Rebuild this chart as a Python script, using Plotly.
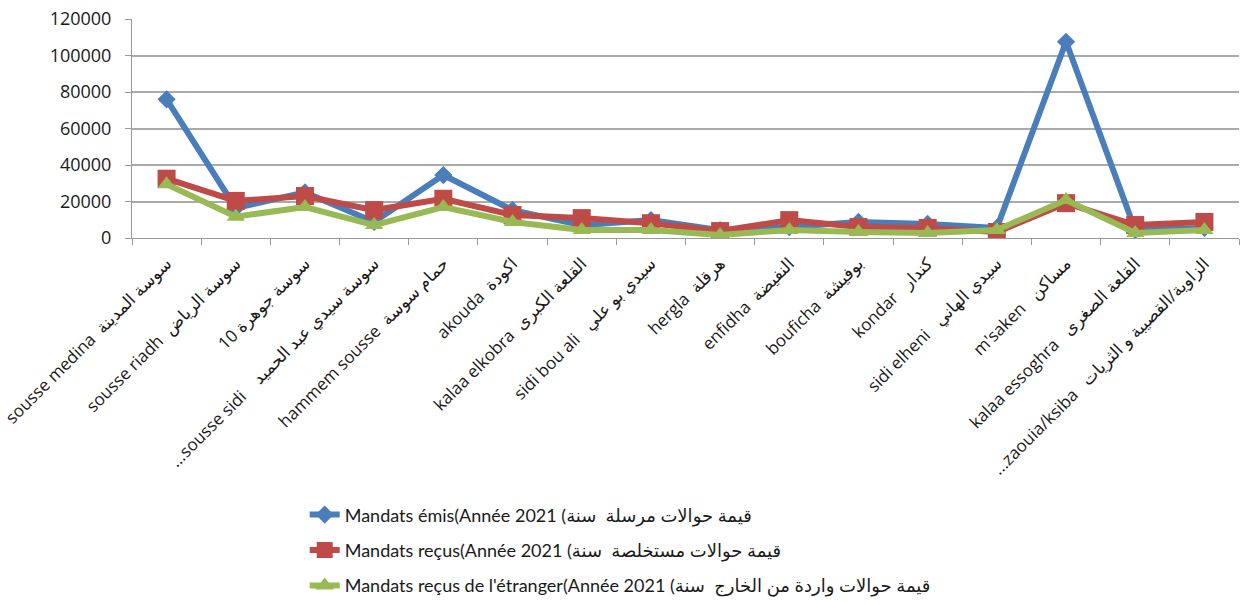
import plotly.graph_objects as go

# delegations (gouvernorat de Sousse)
categories = [
    "sousse medina  سوسة المدينة",
    "sousse riadh  سوسة الرياض",
    "سوسة جوهرة 10",
    "...sousse sidi    سوسة سيدي عبد الحميد",
    "hammem sousse  حمام سوسة",
    "akouda  اكودة",
    "kalaa elkobra  القلعة الكبرى",
    "sidi bou ali   سيدي بو علي",
    "hergla  هرقلة",
    "enfidha  النفيضة",
    "bouficha  بوفيشة",
    "kondar   كندار",
    "sidi elheni   سيدي الهاني",
    "m'saken   مساكن",
    "kalaa essoghra   القلعة الصغرى",
    "...zaouia/ksiba   الزاوية/القصيبة و الثريات",
]

emis = [76000, 16400, 25000, 8800, 34500, 15300, 7000, 9800, 4300, 6000, 8800, 7700, 5500, 107500, 4400, 5500]
recus = [32500, 20300, 23000, 15300, 21500, 12600, 10900, 8100, 3800, 9800, 6000, 5500, 3300, 19100, 7100, 8800]
etranger = [29500, 11700, 17000, 7100, 17000, 8800, 4400, 4400, 1600, 4400, 3300, 2700, 4400, 20800, 2700, 4400]

names = [
    "Mandats émis(Année 2021 (قيمة حوالات مرسلة  سنة",
    "Mandats reçus(Année 2021 (قيمة حوالات مستخلصة  سنة",
    "Mandats reçus de l'étranger(Année 2021 (قيمة حوالات واردة من الخارج  سنة",
]

series = [
    (emis, "#4A7EBB", "diamond", 14),
    (recus, "#BE4B48", "square", 18),
    (etranger, "#98B954", "triangle-up", 16),
]

fig = go.Figure()
for i, (vals, color, symbol, size) in enumerate(series):
    fig.add_trace(go.Scatter(
        x=categories, y=vals, mode="lines+markers", name=names[i],
        legendgroup=str(i),
        line=dict(color=color, width=6),
        marker=dict(symbol=symbol, size=size, color=color),
    ))

font = "Open Sans, DejaVu Sans, sans-serif"
fig.update_layout(
    width=1242, height=605,
    margin=dict(l=132, r=3, t=19, b=367, autoexpand=False),
    paper_bgcolor="white", plot_bgcolor="white",
    font=dict(family=font, size=16, color="#1a1a1a"),
    showlegend=True,
    legend=dict(
        x=0.156, y=-1.18, xanchor="left", yanchor="top",
        font=dict(family="Lato, DejaVu Sans, sans-serif", size=18, color="#1a1a1a"),
        tracegroupgap=9, itemwidth=30,
    ),
)
fig.update_xaxes(
    type="category", range=[-0.5, len(categories) - 0.5], automargin=False,
    tickangle=-45, tickson="boundaries", ticks="outside", ticklen=6,
    tickcolor="#999999", showline=True, linecolor="#999999", linewidth=1,
    showgrid=False, ticklabelstandoff=8,
    tickfont=dict(family=font, size=17),
)
fig.update_yaxes(
    range=[0, 120000], dtick=20000, ticks="outside", ticklen=6, automargin=False,
    tickcolor="#999999", showline=True, linecolor="#999999", linewidth=1,
    showgrid=True, gridcolor="#AAAAAA", gridwidth=1.5, zeroline=False,
    ticklabelstandoff=10, tickformat="d",
    tickfont=dict(family=font, size=18),
)

# page body has a default 8px margin; remove it so the figure fills the window
fig.write_html("out.html", config={"displayModeBar": False},
               post_script="document.body.style.margin='0';")
